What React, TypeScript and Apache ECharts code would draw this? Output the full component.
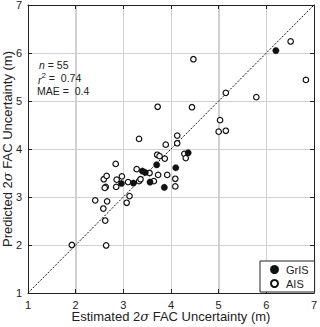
import React, { useEffect, useRef } from "react";
import * as echarts from "echarts";

const axisTicks = [1, 2, 3, 4, 5, 6, 7];
const oneToOne = [1, 7];

const grisEstimated = [2.96, 3.21, 3.40, 3.46, 3.56, 3.70, 3.86, 4.10, 4.36, 6.20];
const grisPredicted = [3.28, 3.29, 3.54, 3.51, 3.31, 3.67, 3.20, 3.61, 3.92, 6.05];

const aisEstimated = [
  1.92, 2.64, 2.62, 2.41, 2.58, 2.66, 2.59, 2.63, 2.61, 2.65,
  2.84, 2.86, 2.85, 2.97, 3.07, 3.13, 3.10, 3.28, 3.33, 3.36,
  3.55, 3.64, 3.73, 3.92, 4.09, 4.09, 3.71, 3.76, 3.87, 3.89,
  4.13, 4.13, 4.28, 4.31, 3.33, 3.72, 4.44, 4.47, 5.03, 5.00,
  5.15, 5.15, 5.79, 6.51, 6.83,
];
const aisPredicted = [
  2.00, 1.99, 2.51, 2.93, 2.76, 2.91, 3.37, 3.21, 3.19, 3.44,
  3.69, 3.36, 3.21, 3.43, 2.88, 3.02, 3.31, 3.58, 3.33, 3.37,
  3.50, 3.33, 3.46, 3.46, 3.38, 3.22, 3.88, 3.85, 3.80, 4.09,
  4.12, 4.28, 3.90, 3.81, 4.21, 4.88, 4.87, 5.87, 4.60, 4.36,
  4.38, 5.17, 5.08, 6.24, 5.44,
];

const FONT = "Liberation Sans, Arial, sans-serif";
const GRID_COLOR = "#d0d0d0";

export default function App() {
  const ref = useRef<HTMLDivElement>(null);
  useEffect(() => {
    if (!ref.current) return;
    const chart = echarts.init(ref.current, undefined, { renderer: "svg" });
    const min = axisTicks[0];
    const max = axisTicks[axisTicks.length - 1];
    const baseAxis = {
      type: "value",
      min,
      max,
      interval: 1,
      axisLine: { show: true, lineStyle: { color: "#222", width: 1 } },
      axisTick: { show: true, inside: true, length: 4, lineStyle: { color: "#222" } },
      splitLine: { show: true, lineStyle: { color: GRID_COLOR, width: 1 } },
    };
    const nameRich = {
      s: { fontStyle: "italic", fontFamily: "DejaVu Serif, serif", fontSize: 13, color: "#222" },
    };
    const textGraphics = [
      {
        type: "text",
        left: 39,
        top: 59,
        z: 10,
        style: {
          text: "{i|n} = 55",
          rich: { i: { fontStyle: "italic", fontSize: 10.5, fontFamily: FONT } },
          fontSize: 10.5,
          fontFamily: FONT,
          fill: "#222",
        },
      },
      {
        type: "text",
        left: 38,
        top: 71,
        z: 10,
        style: {
          text: "{i|r}{sup|2} =  0.74",
          rich: {
            i: { fontStyle: "italic", fontSize: 10.5, fontFamily: FONT, lineHeight: 14, verticalAlign: "bottom" },
            sup: { fontSize: 8, fontFamily: FONT, lineHeight: 14, verticalAlign: "top" },
          },
          fontSize: 10.5,
          lineHeight: 14,
          fontFamily: FONT,
          fill: "#222",
        },
      },
      {
        type: "text",
        left: 37,
        top: 85,
        z: 10,
        style: {
          text: "MAE =  0.4",
          fontSize: 10.5,
          fontFamily: FONT,
          fill: "#222",
        },
      },
    ];
    chart.setOption({
      animation: false,
      backgroundColor: "#fff",
      textStyle: { fontFamily: FONT },
      grid: {
        left: 28,
        top: 5,
        right: 6,
        bottom: 34,
        containLabel: false,
        outerBoundsMode: "none",
      },
      xAxis: [
        {
          ...baseAxis,
          position: "bottom",
          name: "Estimated 2{s|σ} FAC Uncertainty (m)",
          nameLocation: "middle",
          nameGap: 17,
          nameMoveOverlap: false,
          nameTextStyle: { fontSize: 13, color: "#222", fontFamily: FONT, rich: nameRich },
          axisLabel: { show: true, fontSize: 11, color: "#222", margin: 6, fontFamily: FONT },
        },
        {
          ...baseAxis,
          position: "top",
          axisLabel: { show: false },
          splitLine: { show: false },
        },
      ],
      yAxis: [
        {
          ...baseAxis,
          position: "left",
          name: "Predicted 2{s|σ} FAC Uncertainty (m)",
          nameLocation: "middle",
          nameGap: 14,
          nameMoveOverlap: false,
          nameTextStyle: { fontSize: 13, color: "#222", fontFamily: FONT, rich: nameRich },
          axisLabel: { show: true, fontSize: 11, color: "#222", margin: 6, fontFamily: FONT },
        },
        {
          ...baseAxis,
          position: "right",
          axisLabel: { show: false },
          splitLine: { show: false },
        },
      ],
      legend: {
        data: ["GrIS", "AIS"],
        orient: "vertical",
        left: 260,
        top: 261,
        padding: [3, 6, 3, 10],
        itemGap: 3,
        itemWidth: 7,
        itemHeight: 7,
        icon: "circle",
        borderColor: "#222",
        borderWidth: 1,
        borderRadius: 0,
        backgroundColor: "#fff",
        textStyle: { fontSize: 11, color: "#222", fontFamily: FONT, padding: [0, 0, 0, 3] },
      },
      graphic: textGraphics,
      series: [
        {
          name: "1:1",
          type: "line",
          data: oneToOne.map((v) => [v, v]),
          symbol: "none",
          silent: true,
          z: 1,
          lineStyle: { color: "#111", width: 1, type: [2, 1.5] },
        },
        {
          name: "AIS",
          type: "scatter",
          data: aisEstimated.map((x, i) => [x, aisPredicted[i]]),
          symbol: "circle",
          symbolSize: 5.5,
          z: 3,
          itemStyle: { color: "#fff", borderColor: "#111", borderWidth: 1.2, opacity: 1 },
        },
        {
          name: "GrIS",
          type: "scatter",
          data: grisEstimated.map((x, i) => [x, grisPredicted[i]]),
          symbol: "circle",
          symbolSize: 6.5,
          z: 4,
          itemStyle: { color: "#111", borderColor: "#111", borderWidth: 0.3, opacity: 1 },
        },
      ],
    });

    // Grid lines placed through the library's own scales.
    const inner = axisTicks.slice(1, -1);
    const x0 = chart.convertToPixel({ xAxisIndex: 0 }, min) as number;
    const x1 = chart.convertToPixel({ xAxisIndex: 0 }, max) as number;
    const y0 = chart.convertToPixel({ yAxisIndex: 0 }, min) as number;
    const y1 = chart.convertToPixel({ yAxisIndex: 0 }, max) as number;
    const lines: any[] = [];
    inner.forEach((v) => {
      const px = Math.round(chart.convertToPixel({ xAxisIndex: 0 }, v) as number) + 0.5;
      const py = Math.round(chart.convertToPixel({ yAxisIndex: 0 }, v) as number) + 0.5;
      lines.push({
        type: "line",
        silent: true,
        z: -10,
        shape: { x1: px, y1: y0, x2: px, y2: y1 },
        style: { stroke: GRID_COLOR, lineWidth: 1 },
      });
      lines.push({
        type: "line",
        silent: true,
        z: -10,
        shape: { x1: x0, y1: py, x2: x1, y2: py },
        style: { stroke: GRID_COLOR, lineWidth: 1 },
      });
    });
    chart.setOption({ graphic: [...textGraphics, ...lines] });

    return () => chart.dispose();
  }, []);
  return (
    <div
      ref={ref}
      style={{ position: "absolute", left: 0, top: 0, width: 320, height: 327, background: "#fff" }}
    />
  );
}
